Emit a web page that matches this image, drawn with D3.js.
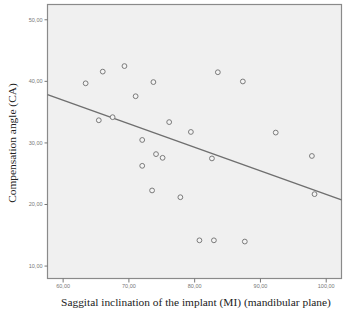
<!DOCTYPE html>
<html lang="en">
<head>
<meta charset="utf-8">
<script src="https://d3js.org/d3.v7.min.js"></script>
<style>
  body { margin: 0; background: #fff; }
</style>
</head>
<body>
<script>
// values
var inclination = [63.5, 66.1, 69.4, 65.5, 67.6, 71.1, 73.8, 76.2, 72.1, 74.2, 75.2, 72.1,
                   73.6, 77.9, 79.5, 82.7, 83.6, 87.4, 92.4, 97.9, 98.3, 80.8, 83.0, 87.7];
var angle = [39.6, 41.5, 42.4, 33.6, 34.1, 37.5, 39.8, 33.3, 30.4, 28.1, 27.5, 26.2,
             22.2, 21.1, 31.7, 27.4, 41.4, 39.9, 31.6, 27.8, 21.6, 14.1, 14.1, 13.9];
var xTicks = [60, 70, 80, 90, 100];
var yTicks = [10, 20, 30, 40, 50];
var fit = { intercept: 59.8, slope: -0.382 };

var width = 356, height = 321;
var plotL = 47.5, plotR = 341.5, plotT = 4.5, plotB = 278.5;

var svg = d3.select("body").append("svg")
  .attr("width", width)
  .attr("height", height);

var x = d3.scaleLinear().domain([57.7, 102.4]).range([plotL, plotR]);
var y = d3.scaleLinear().domain([7.9, 52.4]).range([plotB, plotT]);

var fmt = function (d) { return d3.format(".2f")(d).replace(".", ","); };

// plot background + frame
svg.append("rect")
  .attr("x", plotL).attr("y", plotT)
  .attr("width", plotR - plotL).attr("height", plotB - plotT)
  .attr("fill", "#f0f0f0")
  .attr("stroke", "#8a8a8a")
  .attr("stroke-width", 1.2);

// axes
var yAxis = svg.append("g")
  .attr("transform", "translate(" + plotL + ",0)")
  .call(d3.axisLeft(y).tickValues(yTicks).tickFormat(fmt).tickSize(3).tickPadding(2));
var xAxis = svg.append("g")
  .attr("transform", "translate(0," + plotB + ")")
  .call(d3.axisBottom(x).tickValues(xTicks).tickFormat(fmt).tickSize(4).tickPadding(2));
[yAxis, xAxis].forEach(function (g) {
  g.select(".domain").remove();
  g.selectAll("line").attr("stroke", "#777");
  g.selectAll("text")
    .attr("font-family", "Liberation Sans, Arial, sans-serif")
    .attr("font-size", 5.5)
    .attr("fill", "#777");
});

// regression line
var x0 = x.domain()[0], x1 = x.domain()[1];
svg.append("line")
  .attr("x1", x(x0)).attr("y1", y(fit.intercept + fit.slope * x0))
  .attr("x2", x(x1)).attr("y2", y(fit.intercept + fit.slope * x1))
  .attr("stroke", "#6f6f6f")
  .attr("stroke-width", 1.4);

// points
svg.selectAll("circle.pt")
  .data(d3.range(inclination.length))
  .join("circle")
  .attr("class", "pt")
  .attr("cx", function (i) { return x(inclination[i]); })
  .attr("cy", function (i) { return y(angle[i]); })
  .attr("r", 2.4)
  .attr("fill", "#f4f4f4")
  .attr("stroke", "#7a7a7a")
  .attr("stroke-width", 1);

// axis titles
svg.append("text")
  .attr("transform", "translate(16," + 143 + ") rotate(-90)")
  .attr("text-anchor", "middle")
  .attr("font-family", "Liberation Serif, Times New Roman, serif")
  .attr("font-size", 11.4)
  .attr("fill", "#222")
  .text("Compensation angle (CA)");

svg.append("text")
  .attr("x", 196)
  .attr("y", 306)
  .attr("text-anchor", "middle")
  .attr("font-family", "Liberation Serif, Times New Roman, serif")
  .attr("font-size", 11.4)
  .attr("fill", "#222")
  .text("Saggital inclination of the implant (MI) (mandibular plane)");
</script>
</body>
</html>
